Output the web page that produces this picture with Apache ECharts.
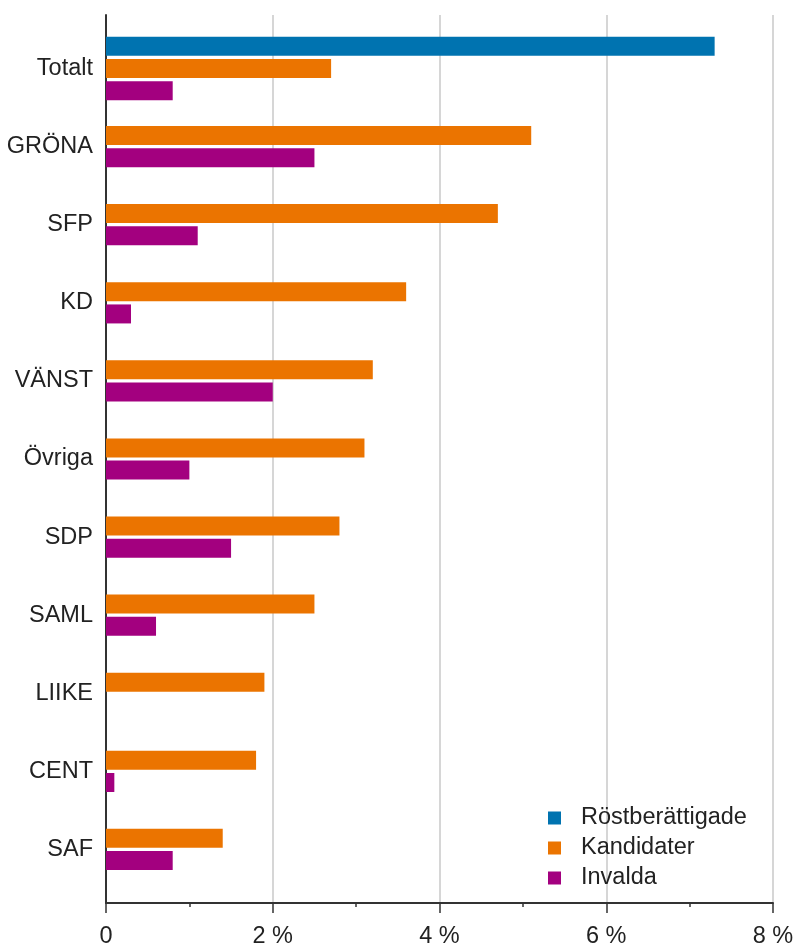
<!DOCTYPE html>
<html>
<head>
<meta charset="utf-8">
<script src="https://cdn.jsdelivr.net/npm/echarts@6/dist/echarts.min.js"></script>
<style>
html,body{margin:0;padding:0;background:#fff;}
#chart{width:797px;height:949px;}
</style>
</head>
<body>
<div id="chart"></div>
<script>
const categories = ['Totalt','GRÖNA','SFP','KD','VÄNST','Övriga','SDP','SAML','LIIKE','CENT','SAF'];
const rostberattigade = [7.3, null, null, null, null, null, null, null, null, null, null];
const kandidater = [2.7, 5.1, 4.7, 3.6, 3.2, 3.1, 2.8, 2.5, 1.9, 1.8, 1.4];
const invalda = [0.8, 2.5, 1.1, 0.3, 2.0, 1.0, 1.5, 0.6, 0, 0.1, 0.8];
const xTicks = [0, 2, 4, 6, 8];

const seriesNames = ['Röstberättigade', 'Kandidater', 'Invalda'];
const colors = ['#0073B0', '#EB7400', '#A3007F'];

const FONT = '"Liberation Sans", Arial, sans-serif';
const FS = 23.5;
const TXT = '#222';

const hasRost = rostberattigade.map(v => v !== null && v !== undefined);
const mask = (arr, keep) => arr.map((v, i) => keep(i) ? v : null);

function bar(nameIdx, data, yAxisIndex) {
  return {
    type: 'bar', name: seriesNames[nameIdx], data: data,
    xAxisIndex: 1, yAxisIndex: yAxisIndex,
    barWidth: 19, barGap: '17%',
    itemStyle: { color: colors[nameIdx] },
    emphasis: { disabled: true }
  };
}

const chart = echarts.init(document.getElementById('chart'), null, { renderer: 'canvas' });
chart.setOption({
  animation: false,
  textStyle: { fontFamily: FONT },
  grid: [
    { left: 106, right: 24, top: 15, bottom: 46, containLabel: false },
    { left: 106, right: 24, top: 29.5, bottom: 60.5, containLabel: false }
  ],
  xAxis: [
    {
      type: 'value', gridIndex: 0, min: xTicks[0], max: xTicks[xTicks.length - 1], interval: 2,
      axisLine: { show: true, onZero: false, lineStyle: { color: '#333', width: 2 } },
      axisTick: { show: true, length: 10, lineStyle: { color: '#333', width: 1.5 } },
      minorTick: { show: true, splitNumber: 2, length: 4, lineStyle: { color: '#333', width: 1.5 } },
      splitLine: { show: true, lineStyle: { color: '#c8c8c8', width: 1.5 } },
      axisLabel: {
        margin: 22, fontSize: FS, color: TXT, fontFamily: FONT,
        formatter: v => v === 0 ? '0' : v + ' %'
      }
    },
    {
      type: 'value', gridIndex: 1, min: xTicks[0], max: xTicks[xTicks.length - 1], show: false
    }
  ],
  yAxis: [
    {
      type: 'value', gridIndex: 0, min: 0, max: 1,
      axisLine: { show: true, onZero: false, lineStyle: { color: '#333', width: 2 } },
      axisTick: { show: false }, axisLabel: { show: false }, splitLine: { show: false }
    },
    {
      type: 'category', gridIndex: 1, data: categories, inverse: true,
      axisLine: { show: false }, axisTick: { show: false }, splitLine: { show: false },
      axisLabel: { margin: 13, fontSize: FS, color: TXT, fontFamily: FONT }
    },
    {
      type: 'category', gridIndex: 1, data: categories, inverse: true, show: false
    }
  ],
  legend: {
    orient: 'vertical', left: 543, top: 801,
    data: seriesNames,
    icon: 'path://M0,0h10v10h-10z',
    itemWidth: 43, itemHeight: 13, itemGap: 6,
    symbolKeepAspect: true,
    textStyle: { fontSize: FS, color: TXT, fontFamily: FONT },
    selectedMode: false
  },
  series: [
    bar(0, mask(rostberattigade, i => hasRost[i]), 2),
    bar(1, mask(kandidater, i => hasRost[i]), 2),
    bar(2, mask(invalda, i => hasRost[i]), 2),
    bar(1, mask(kandidater, i => !hasRost[i]), 1),
    bar(2, mask(invalda, i => !hasRost[i]), 1)
  ]
});
</script>
</body>
</html>
